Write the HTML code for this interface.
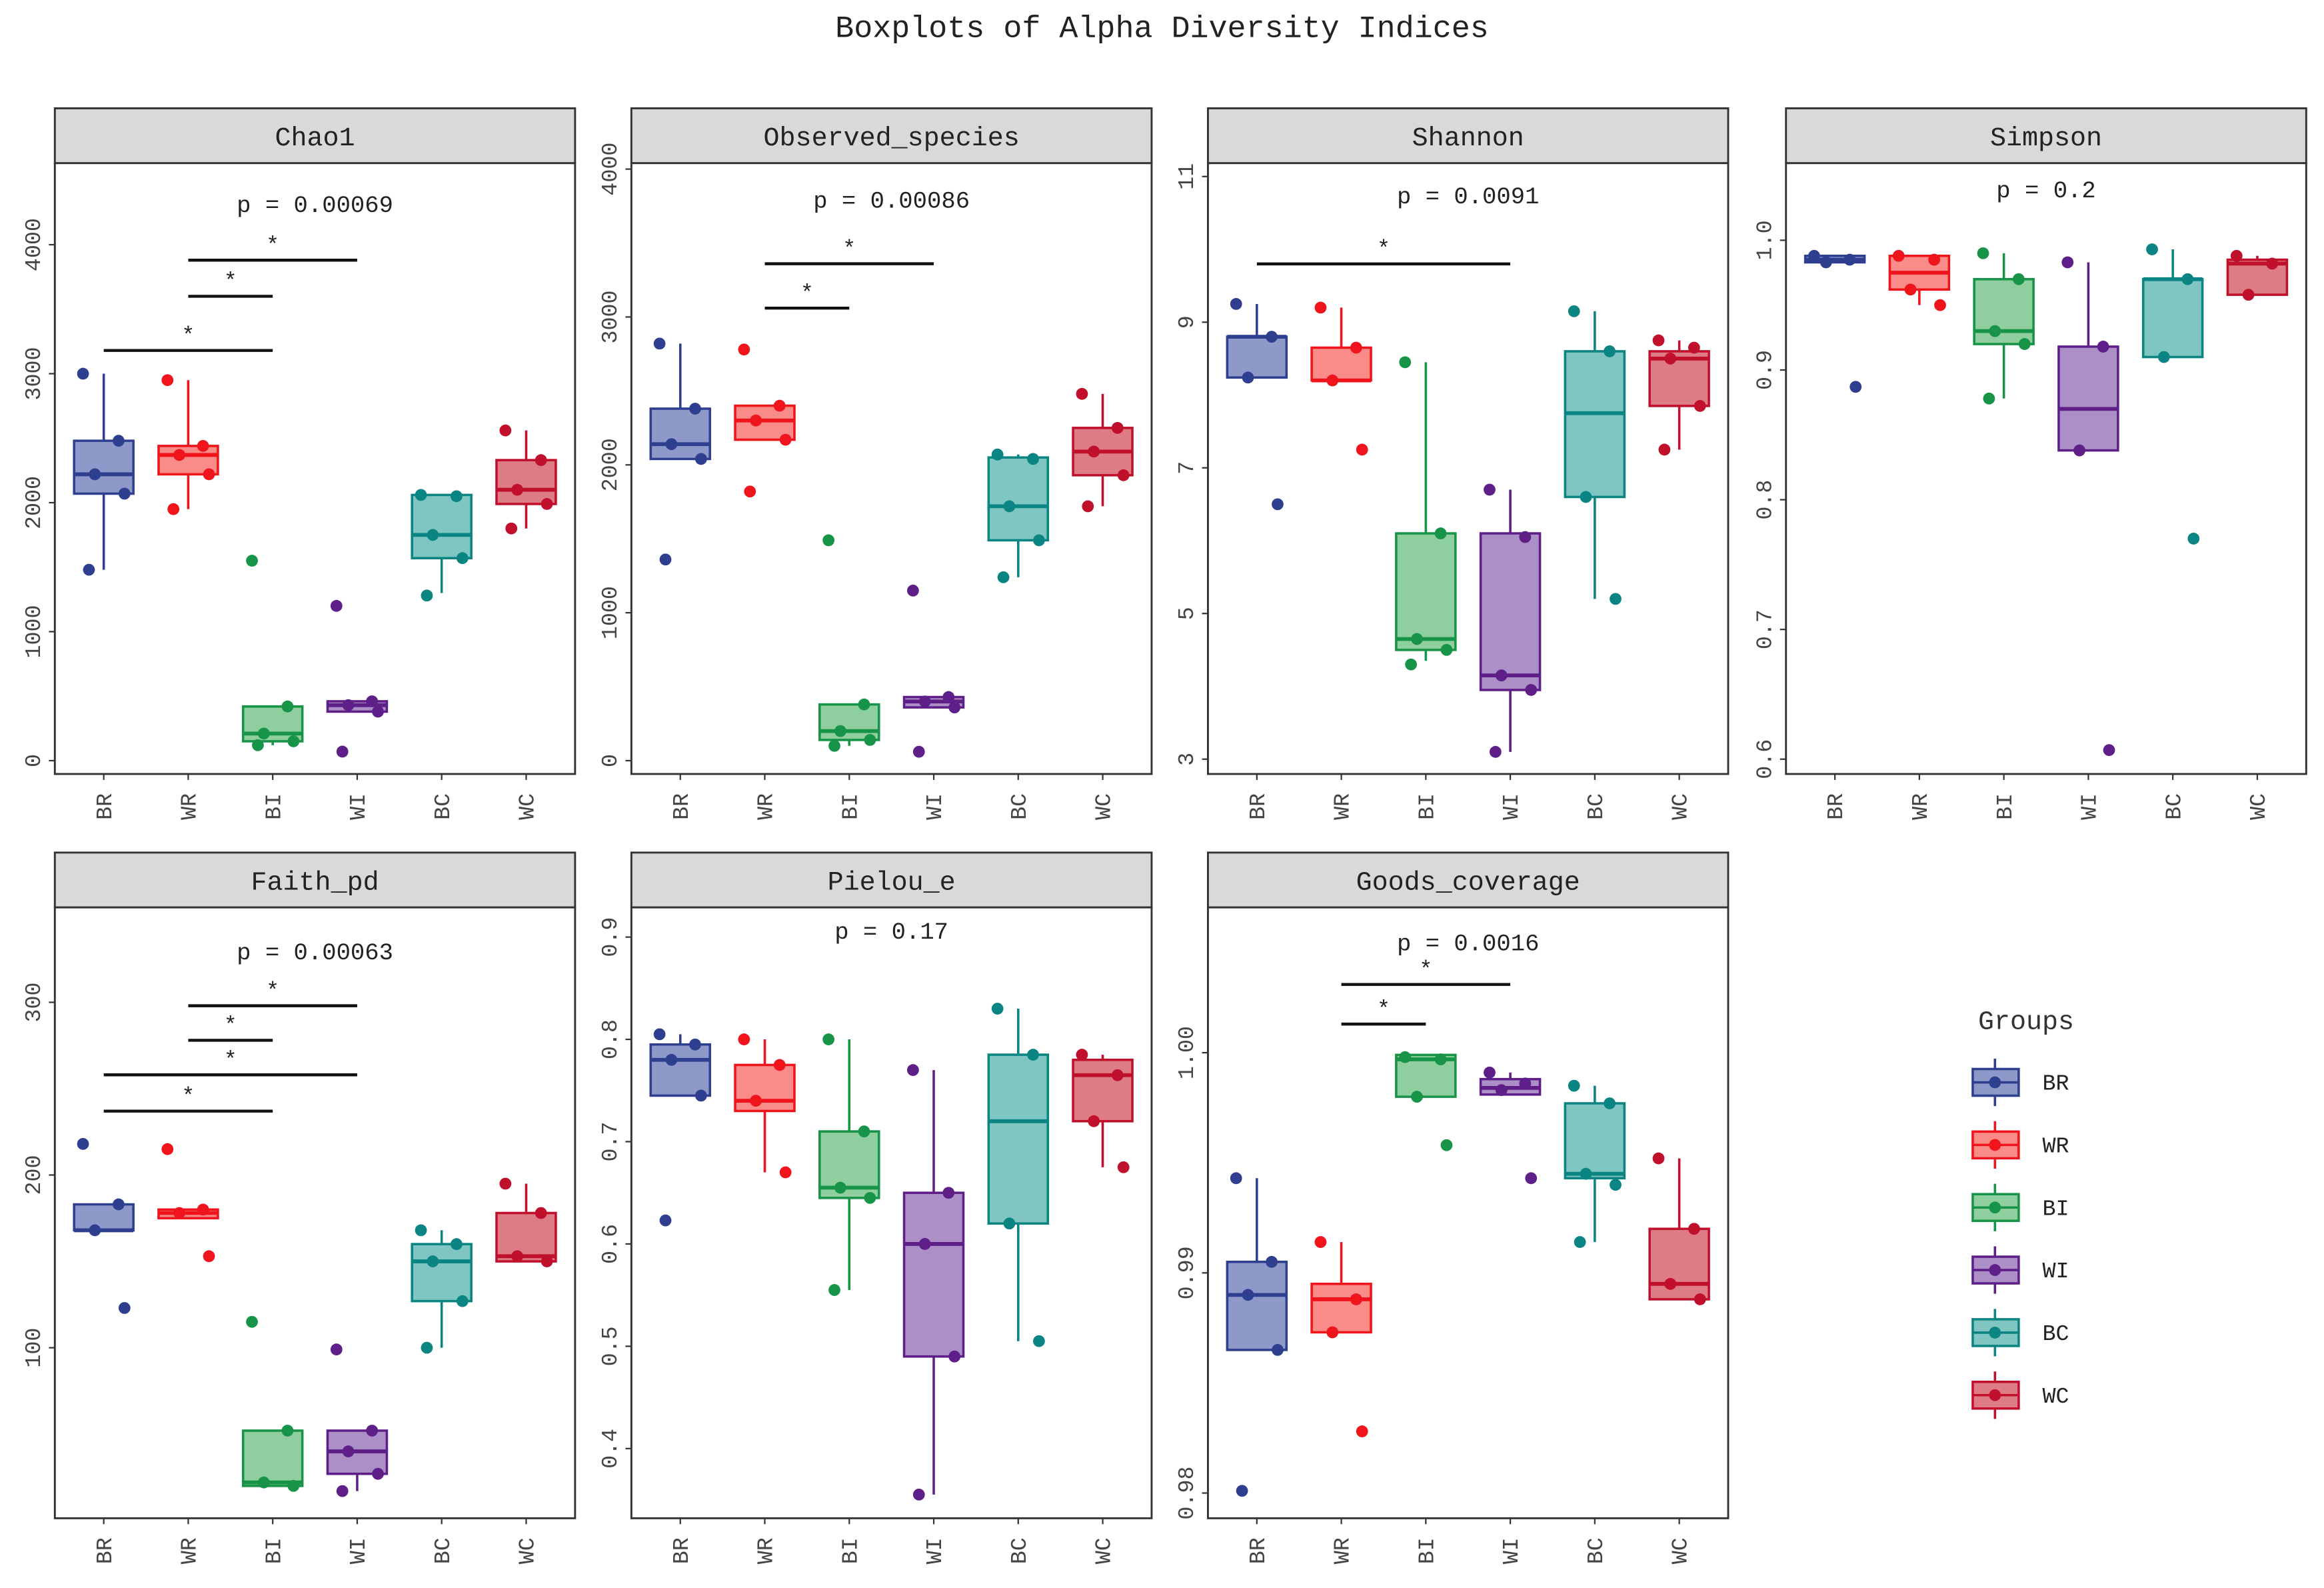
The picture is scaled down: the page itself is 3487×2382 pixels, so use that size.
<!DOCTYPE html>
<html><head><meta charset="utf-8"><style>
html,body{margin:0;padding:0;background:#fff;}
svg{display:block;}
text{font-family:"Liberation Mono",monospace;}
</style></head><body>
<svg id="chart" width="3487" height="2382" viewBox="0 0 1568 1071" xmlns="http://www.w3.org/2000/svg">
<text x="784" y="25" text-anchor="middle" font-size="21" fill="#222">Boxplots of Alpha Diversity Indices</text>
<g id="panels"></g>
<g id="legend"></g>
</svg>
<script>
const groups = ["BR","WR","BI","WI","BC","WC"];
const lineColors = ["#2e3f8f","#f0141c","#179448","#5e1f88","#0b8583","#c0102c"];
const fillColors = ["#8e99c9","#f98b89","#8fcf9f","#ab8fc6","#7fc6c2","#de7c86"];

const chao1Stats = [[1480,2070,2220,2480,3000],[1950,2220,2370,2440,2950],[120,150,210,420,420],[380,380,430,460,460],[1300,1570,1750,2060,2060],[1800,1990,2100,2330,2560]];
const chao1Points = [[3000,2480,2220,2070,1480],[2950,2440,2370,2220,1950],[1550,420,210,150,120],[1200,460,430,380,70],[2060,2050,1750,1570,1280],[2560,2330,2100,1990,1800]];
const obsStats = [[2040,2040,2140,2380,2820],[2170,2170,2300,2400,2400],[100,140,200,380,380],[360,360,400,430,430],[1240,1490,1720,2050,2070],[1720,1930,2090,2250,2480]];
const obsPoints = [[2820,2380,2140,2040,1360],[2780,2400,2300,2170,1820],[1490,380,200,140,100],[1150,430,400,360,60],[2070,2040,1720,1490,1240],[2480,2250,2090,1930,1720]];
const shanStats = [[8.24,8.24,8.8,8.8,9.25],[8.2,8.2,8.2,8.65,9.2],[4.35,4.5,4.65,6.1,8.45],[3.1,3.95,4.15,6.1,6.7],[5.2,6.6,7.75,8.6,9.15],[7.25,7.85,8.5,8.6,8.75]];
const shanPoints = [[9.25,8.8,8.24,6.5],[9.2,8.65,8.2,7.25],[8.45,6.1,4.65,4.5,4.3],[6.7,6.05,4.15,3.95,3.1],[9.15,8.6,6.6,5.2],[8.75,8.65,8.5,7.85,7.25]];
const simpStats = [[0.983,0.983,0.985,0.988,0.988],[0.95,0.962,0.975,0.988,0.988],[0.878,0.92,0.93,0.97,0.99],[0.838,0.838,0.87,0.918,0.983],[0.91,0.91,0.97,0.97,0.993],[0.958,0.958,0.982,0.985,0.988]];
const simpPoints = [[0.988,0.985,0.983,0.887],[0.988,0.985,0.962,0.95],[0.99,0.97,0.93,0.92,0.878],[0.983,0.918,0.838,0.607],[0.993,0.97,0.91,0.77],[0.988,0.982,0.958]];
const faithStats = [[168,168,168,183,183],[175,175,178,180,180],[20,20,22,52,52],[17,27,40,52,52],[100,127,150,160,168],[150,150,153,178,195]];
const faithPoints = [[218,183,168,123],[215,180,178,153],[115,52,22,20],[99,52,40,27,17],[168,160,150,127,100],[195,178,153,150]];
const pielStats = [[0.745,0.745,0.78,0.795,0.805],[0.67,0.73,0.74,0.775,0.8],[0.555,0.645,0.655,0.71,0.8],[0.355,0.49,0.6,0.65,0.77],[0.505,0.62,0.72,0.785,0.83],[0.675,0.72,0.765,0.78,0.785]];
const pielPoints = [[0.805,0.795,0.78,0.745,0.623],[0.8,0.775,0.74,0.67],[0.8,0.71,0.655,0.645,0.555],[0.77,0.65,0.6,0.49,0.355],[0.83,0.785,0.62,0.505],[0.785,0.765,0.72,0.675]];
const goodStats = [[0.9865,0.9865,0.989,0.9905,0.9943],[0.9873,0.9873,0.9888,0.9895,0.9914],[0.998,0.998,0.9997,0.9999,0.9999],[0.9981,0.9981,0.9984,0.9988,0.9991],[0.9914,0.9943,0.9945,0.9977,0.9985],[0.9888,0.9888,0.9895,0.992,0.9952]];
const goodPoints = [[0.9943,0.9905,0.989,0.9865,0.9801],[0.9914,0.9888,0.9873,0.9828],[0.9998,0.9997,0.998,0.9958],[0.9991,0.9986,0.9983,0.9943],[0.9985,0.9977,0.9945,0.994,0.9914],[0.9952,0.992,0.9895,0.9888]];

const titles = ["Chao1","Observed_species","Shannon","Simpson","Faith_pd","Pielou_e","Goods_coverage"];
const pLabels = ["p = 0.00069","p = 0.00086","p = 0.0091","p = 0.2","p = 0.00063","p = 0.17","p = 0.0016"];
const yTicks = [[0,1000,2000,3000,4000],[0,1000,2000,3000,4000],[3,5,7,9,11],[0.6,0.7,0.8,0.9,1.0],[100,200,300],[0.4,0.5,0.6,0.7,0.8,0.9],[0.98,0.99,1.00]];
const yTickLabels = [["0","1000","2000","3000","4000"],["0","1000","2000","3000","4000"],["3","5","7","9","11"],["0.6","0.7","0.8","0.9","1.0"],["100","200","300"],["0.4","0.5","0.6","0.7","0.8","0.9"],["0.98","0.99","1.00"]];
const sigBars = [
 [[0,2,3180],[1,2,3600],[1,3,3880]],
 [[1,2,3060],[1,3,3360]],
 [[0,3,9.8]],
 [],
 [[0,2,237],[0,3,258],[1,2,278],[1,3,298]],
 [],
 [[1,2,1.0013],[1,3,1.0031]]
];
const allStats = [chao1Stats,obsStats,shanStats,simpStats,faithStats,pielStats,goodStats];
const allPoints = [chao1Points,obsPoints,shanPoints,simpPoints,faithPoints,pielPoints,goodPoints];
// layout: p-label baseline offset from plot top (pixels)
const pLabelOffset = [33,30,27,23,35,21,29];
// axis calibration: value -> pixel pairs
const axisCal = [[0,513,4000,165],[0,513,4000,114],[3,512,11,119],[0.6,512,1.0,162],[100,909,300,676],[0.4,977,0.9,632],[0.98,1007,1.0,710]];

const NS="http://www.w3.org/2000/svg";
function mk(tag, attrs, parent){const e=document.createElementNS(NS,tag);for(const k in attrs)e.setAttribute(k,attrs[k]);parent.appendChild(e);return e;}
const panelsG=document.getElementById('panels');
const colX=[37,426,815,1205], rowTop=[73,575];
const PW=351, stripH=37, plotH=412;
const jit=[-14,10,-6,14,-10,6];

titles.forEach((t,pi)=>{
  const px=colX[pi%4], top=rowTop[Math.floor(pi/4)];
  const g=mk('g',{},panelsG);
  
  
  const c=axisCal[pi];
  const y=v=>c[1]+(v-c[0])*(c[3]-c[1])/(c[2]-c[0]);
  const x=i=>px+33+i*57;
  const pt=top+stripH, pb=pt+plotH;
  const strip=mk('rect',{x:px,y:top,width:PW,height:stripH,fill:'#d9d9d9',stroke:'#333','stroke-width':1.3},g);
  
  
  const st=mk('text',{x:px+PW/2,y:top+25,'text-anchor':'middle','font-size':18,fill:'#222'},g);
  st.textContent=t;
  
  
  const frame=mk('rect',{x:px,y:pt,width:PW,height:plotH,fill:'#fff',stroke:'#333','stroke-width':1.3},g);
  
  
  yTicks[pi].forEach((v,k)=>{
    const yy=y(v);
    mk('line',{x1:px-4,x2:px,y1:yy,y2:yy,stroke:'#333','stroke-width':1},g);
    const tl=mk('text',{x:px-10,y:yy,'text-anchor':'middle','font-size':15,fill:'#444',transform:`rotate(-90 ${px-10} ${yy})`},g);
    tl.textContent=yTickLabels[pi][k];
    
    
  });
  groups.forEach((gn,i)=>{
    const xx=x(i);
    mk('line',{x1:xx,x2:xx,y1:pb,y2:pb+4,stroke:'#333','stroke-width':1},g);
    const lx=xx+5, ly=pb+22;
    const xl=mk('text',{x:lx,y:ly,'text-anchor':'middle','font-size':15,fill:'#444',transform:`rotate(-90 ${lx} ${ly})`},g);
    xl.textContent=gn;
    
    
    const s=allStats[pi][i];
    const bg=mk('g',{},g);
    
    
    mk('line',{x1:xx,x2:xx,y1:y(s[0]),y2:y(s[4]),stroke:lineColors[i],'stroke-width':1.6},bg);
    mk('rect',{x:xx-20,y:y(s[3]),width:40,height:Math.max(1,y(s[1])-y(s[3])),fill:fillColors[i],stroke:lineColors[i],'stroke-width':1.6},bg);
    mk('line',{x1:xx-20,x2:xx+20,y1:y(s[2]),y2:y(s[2]),stroke:lineColors[i],'stroke-width':2.6},bg);
    allPoints[pi][i].forEach((v,k)=>{
      const d=mk('circle',{cx:xx+jit[k%6],cy:y(v),r:4,fill:lineColors[i]},bg);
      
      
    });
  });
  sigBars[pi].forEach(b=>{
    const yy=y(b[2]);
    const l=mk('line',{x1:x(b[0]),x2:x(b[1]),y1:yy,y2:yy,stroke:'#111','stroke-width':2},g);
    
    
    const s=mk('text',{x:(x(b[0])+x(b[1]))/2,y:yy-6,'text-anchor':'middle','font-size':15,fill:'#222'},g);
    s.textContent='*';
  });
  const pv=mk('text',{x:px+PW/2,y:pt+pLabelOffset[pi],'text-anchor':'middle','font-size':16,fill:'#222'},g);
  pv.textContent=pLabels[pi];
  
  
});

const lg=document.getElementById('legend');
const lt=mk('text',{x:1367,y:694,'text-anchor':'middle','font-size':18,fill:'#333'},lg);
lt.textContent='Groups';


groups.forEach((gn,i)=>{
  const cy=730+i*42.2;
  const e=mk('g',{},lg);
  
  
  mk('line',{x1:1346,x2:1346,y1:cy-16,y2:cy+16,stroke:lineColors[i],'stroke-width':1.6},e);
  mk('rect',{x:1331,y:cy-9,width:31,height:18,fill:fillColors[i],stroke:lineColors[i],'stroke-width':1.6},e);
  mk('line',{x1:1331,x2:1362,y1:cy,y2:cy,stroke:lineColors[i],'stroke-width':1.6},e);
  mk('circle',{cx:1346,cy:cy,r:4,fill:lineColors[i]},e);
  const tx=mk('text',{x:1378,y:cy+5,'font-size':15,fill:'#222'},e);
  tx.textContent=gn;
});
</script>
</body></html>
